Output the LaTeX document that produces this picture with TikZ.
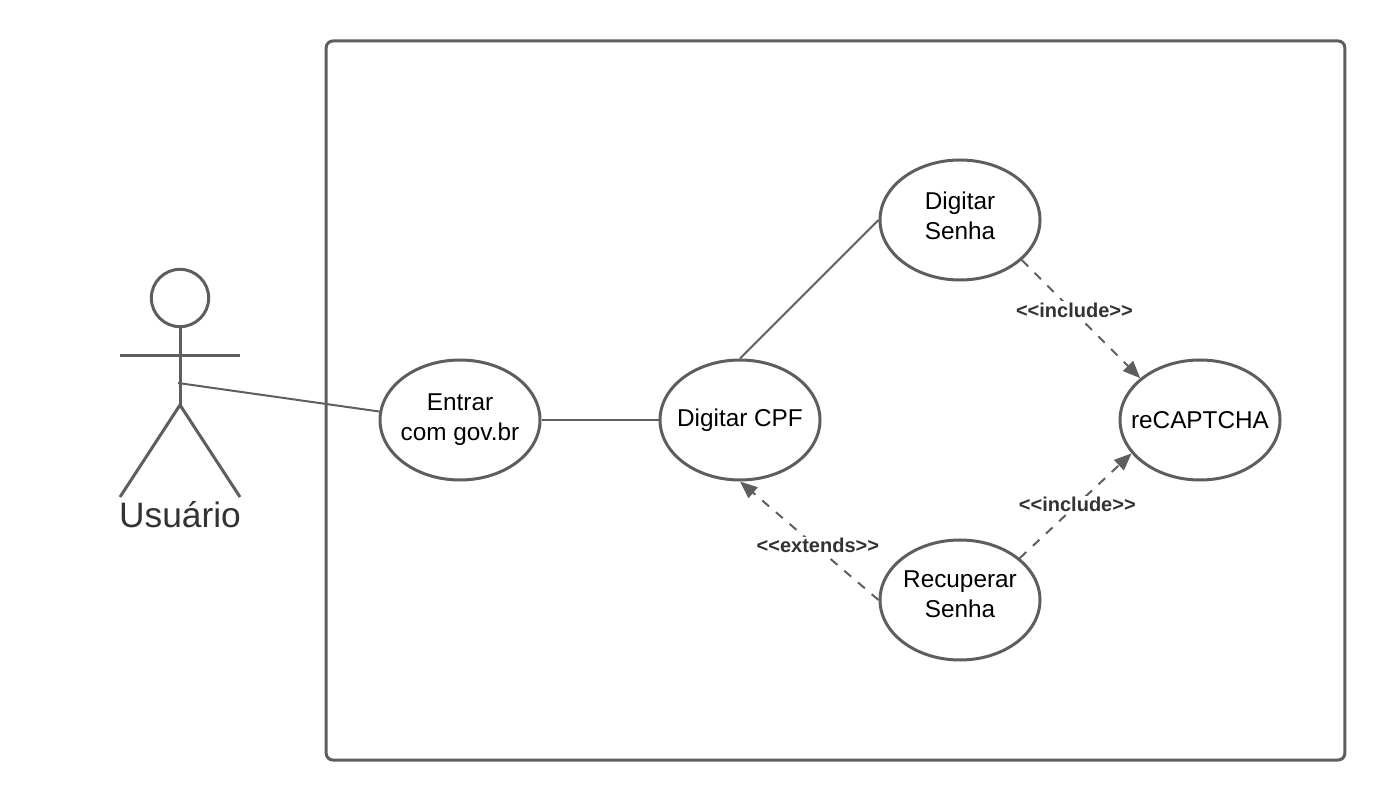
\documentclass[tikz,border=0pt]{standalone}
\usepackage{fontspec}
\setmainfont{Liberation Sans}
\usetikzlibrary{arrows.meta,positioning,shapes.geometric}
\definecolor{linegray}{HTML}{5E5E5E}
\definecolor{labelgray}{HTML}{333333}
\tikzset{
    usecase/.style={
           ellipse,
           draw=linegray, line width=2.25pt,
           fill=white,
           minimum width=120pt,
           minimum height=90pt,
           inner sep=-20pt,
           font=\fontsize{18.25}{22.5}\selectfont,
           align=center,
           },
    assoc/.style={draw=linegray, line width=1.5pt},
    depend/.style={draw=linegray, line width=1.5pt, dash pattern=on 6.75pt off 6.75pt, ->},
    stereo/.style={fill=white, inner sep=1pt, xshift=1.25pt, yshift=.75pt, text=labelgray, font=\fontsize{15}{18}\selectfont\bfseries},
    limb/.style={draw=linegray, line width=2.25pt},
}

\begin{document}
\begin{tikzpicture}[x=.75pt,y=.75pt,>={Triangle[length=13pt,width=10.5pt]}]
      \useasboundingbox (0,0) rectangle (1385,800);

      % system boundary
      \node[draw=linegray, line width=2.25pt, rounded corners=5pt,
          minimum width=764pt, minimum height=539.25pt, inner sep=0pt,
          anchor=center] (SYSTEM) at (835.5,399.5) {};

      % ACTOR
      \node[circle, draw=linegray, line width=2.25pt, minimum size=43pt, inner sep=0pt] (HEAD) at (180,502) {};
      \coordinate (NECK) at (180,445);
      \coordinate (HIP) at (180,395);
      \coordinate (HAND_L) at (120,444.5);
      \coordinate (HAND_R) at (240,444.5);
      \coordinate (FOOT_L) at (120,303);
      \coordinate (FOOT_R) at (240,303);
      \coordinate (BODY) at (178,417);
      \node[text=labelgray, font=\fontsize{26.5}{30}\selectfont, inner sep=0pt] (ACTOR) at (180,285) {Usuário};

      % USE CASES
      \node[usecase] (ENTRAR) at (460,380) {Entrar\\com gov.br};
      \node[usecase,
          right of=ENTRAR,
          node distance=210pt,
          anchor=center] (CPF) {Digitar CPF};
      \node[usecase,
          text depth=6pt,
          right of=CPF,
          node distance=165pt,
          yshift=150pt,
          anchor=center] (SENHA) {Digitar\\Senha};
      \node[usecase,
          text depth=9pt,
          right of=CPF,
          node distance=165pt,
          yshift=-135pt,
          anchor=center] (RECUPERAR) {Recuperar\\Senha};
      \node[usecase,
          right of=CPF,
          node distance=345pt,
          anchor=center] (CAPTCHA) {reCAPTCHA};

      % actor figure
      \draw[limb] (HEAD.south) -- (HIP);
      \draw[limb] (HAND_L) -- (HAND_R);
      \draw[limb] (FOOT_L) -- (HIP) -- (FOOT_R);

      % draw the paths
      \path
      (BODY)           edge [assoc] (ENTRAR.174)
      (ENTRAR)         edge [assoc] (CPF)
      (CPF.north)      edge [assoc] (SENHA.west)
      (SENHA.-33)      edge [depend] node[stereo,pos=.43]{<{}<include>{}>} (CAPTCHA.145)
      (RECUPERAR.35)   edge [depend] node[stereo,pos=.5]{<{}<include>{}>} (CAPTCHA.206)
      (RECUPERAR.west) edge [depend] node[stereo,pos=.45]{<{}<extends>{}>} (CPF.south)
      ;
\end{tikzpicture}
\end{document}
